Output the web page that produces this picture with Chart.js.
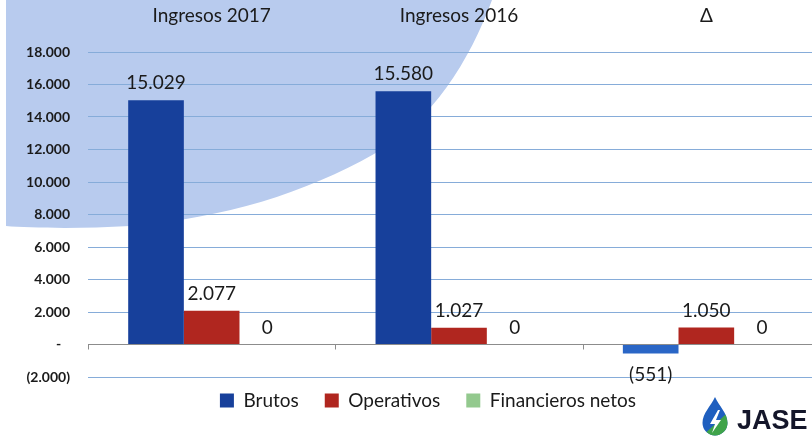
<!DOCTYPE html>
<html><head><meta charset="utf-8">
<script src="https://cdn.jsdelivr.net/npm/chart.js@4"></script>
<style>
html,body{margin:0;padding:0;background:#fff;overflow:hidden;width:812px;height:436px;}
#wrap{position:relative;width:812px;height:436px;overflow:hidden;}
canvas{position:absolute;left:0;top:0;}
#logo{position:absolute;left:737px;top:407px;font:bold 27px "Liberation Sans",Arial,sans-serif;line-height:27px;color:#14162a;white-space:nowrap;}
</style></head><body>
<div id="wrap"><canvas id="c" width="830" height="436"></canvas><div id="logo">JASE</div></div>
<script>
// ---- data ----
const categories = ['Ingresos 2017', 'Ingresos 2016', 'Δ'];
const seriesNames = ['Brutos', 'Operativos', 'Financieros netos'];
const brutos = [15029, 15580, -551];
const operativos = [2077, 1027, 1050];
const financierosNetos = [0, 0, 0];
const yMin = -2000, yMax = 18000, yStep = 2000;

const fmt = v => {
  const s = Math.abs(v).toString().replace(/\B(?=(\d{3})+(?!\d))/g, '.');
  return v < 0 ? '(' + s + ')' : s;
};

const bgPlugin = {
  id: 'bg',
  beforeDraw(chart) {
    const c = chart.ctx;
    c.save();
    c.fillStyle = '#b8cbee';
    c.beginPath();
    c.moveTo(6, 0);
    c.lineTo(492, 0);
    c.bezierCurveTo(470, 60, 432, 122, 374, 154);
    c.bezierCurveTo(305, 193, 225, 218, 130, 226);
    c.bezierCurveTo(80, 229, 30, 228, 6, 226);
    c.closePath();
    c.fill();
    c.restore();
  }
};

const labelPlugin = {
  id: 'vals',
  afterDatasetsDraw(chart) {
    const c = chart.ctx;
    const xs = chart.scales.x, ys = chart.scales.y;
    const y0 = ys.getPixelForValue(0);
    c.save();
    // tick marks on the zero line at category boundaries
    c.strokeStyle = '#8c8c8c';
    c.lineWidth = 1;
    const n = chart.data.labels.length;
    const w = (xs.right - xs.left) / n;
    for (let k = 0; k < n; k++) {
      const px = Math.round(xs.left + k * w) + 0.5;
      c.beginPath(); c.moveTo(px, y0); c.lineTo(px, y0 + 5); c.stroke();
    }
    c.font = '19px Lato';
    c.fillStyle = '#1a1a1a';
    c.textAlign = 'center';
    c.textBaseline = 'middle';
    chart.data.datasets.forEach((ds, di) => {
      const meta = chart.getDatasetMeta(di);
      meta.data.forEach((bar, i) => {
        const v = ds.data[i];
        const y = v < 0 ? bar.y + 21 : bar.y - 17;
        c.fillText(fmt(v), bar.x, y);
      });
    });
    c.restore();
  }
};

const legendShift = {
  id: 'legendShift',
  afterLayout(chart) {
    if (chart.legend) { chart.legend.top -= 12; chart.legend.bottom -= 12; }
  }
};

const logoPlugin = {
  id: 'logo',
  afterDraw(chart) {
    const c = chart.ctx;
    const cx = 715, top = 397, r = 12.5, cyb = 423;
    c.save();
    c.beginPath();
    c.moveTo(cx, top);
    c.bezierCurveTo(cx - 4, top + 9, cx - r, cyb - 10, cx - r, cyb);
    c.arc(cx, cyb, r, Math.PI, 0, true);
    c.bezierCurveTo(cx + r, cyb - 10, cx + 4, top + 9, cx, top);
    c.closePath();
    c.fillStyle = '#1f5fbf';
    c.fill();
    c.clip();
    c.fillStyle = '#3fa34a';
    c.beginPath();
    c.moveTo(cx - r - 2, cyb + r + 2);
    c.lineTo(cx + r + 2, top + 14);
    c.lineTo(cx + r + 2, cyb + r + 2);
    c.closePath();
    c.fill();
    c.fillStyle = '#ffffff';
    c.beginPath();
    c.moveTo(cx + 3, top + 13);
    c.lineTo(cx - 5, cyb + 1);
    c.lineTo(cx, cyb + 1);
    c.lineTo(cx - 3, cyb + 10);
    c.lineTo(cx + 6, cyb - 3);
    c.lineTo(cx + 1, cyb - 3);
    c.lineTo(cx + 5, top + 13);
    c.closePath();
    c.fill();
    c.restore();
  }
};

function build() {
  new Chart(document.getElementById('c'), {
    type: 'bar',
    data: {
      labels: categories,
      datasets: [
        { label: seriesNames[0], data: brutos, backgroundColor: ctx => ctx.dataIndex === 2 ? '#2a66c6' : '#17409b' },
        { label: seriesNames[1], data: operativos, backgroundColor: '#b0261f' },
        { label: seriesNames[2], data: financierosNetos, backgroundColor: '#93c98e' }
      ]
    },
    options: {
      responsive: false,
      animation: false,
      layout: { padding: { left: 26, right: 0, top: 0, bottom: 4 } },
      datasets: { bar: { categoryPercentage: 0.675, barPercentage: 1, borderWidth: 0 } },
      scales: {
        x: {
          position: 'top',
          grid: { display: false },
          border: { display: false },
          ticks: { font: { family: 'Lato', size: 19 }, color: '#1a1a1a', padding: 17 },
          afterFit: s => { s.height = 52; }
        },
        y: {
          min: yMin, max: yMax,
          ticks: {
            stepSize: yStep,
            callback: v => v === 0 ? '-\u2002\u2009' : fmt(v),
            font: { family: 'Lato', size: 14, weight: 'bold' },
            color: '#1a1a1a',
            padding: 18
          },
          grid: { color: c => (c.tick && c.tick.value === 0) ? '#8c8c8c' : '#86acd9', drawTicks: false, lineWidth: 1 },
          border: { display: false },
          afterFit: s => { s.width = 62; }
        }
      },
      plugins: {
        legend: {
          position: 'bottom',
          labels: { boxWidth: 14, boxHeight: 14, padding: 26, font: { family: 'Lato', size: 19 }, color: '#1a1a1a' }
        },
        tooltip: { enabled: false }
      }
    },
    plugins: [bgPlugin, labelPlugin, legendShift, logoPlugin]
  });
}
Promise.all([
  document.fonts.load('19px Lato'),
  document.fonts.load('bold 14px Lato'),
  document.fonts.load('bold 27px "Liberation Sans"')
]).then(build, build);
</script>
</body></html>
